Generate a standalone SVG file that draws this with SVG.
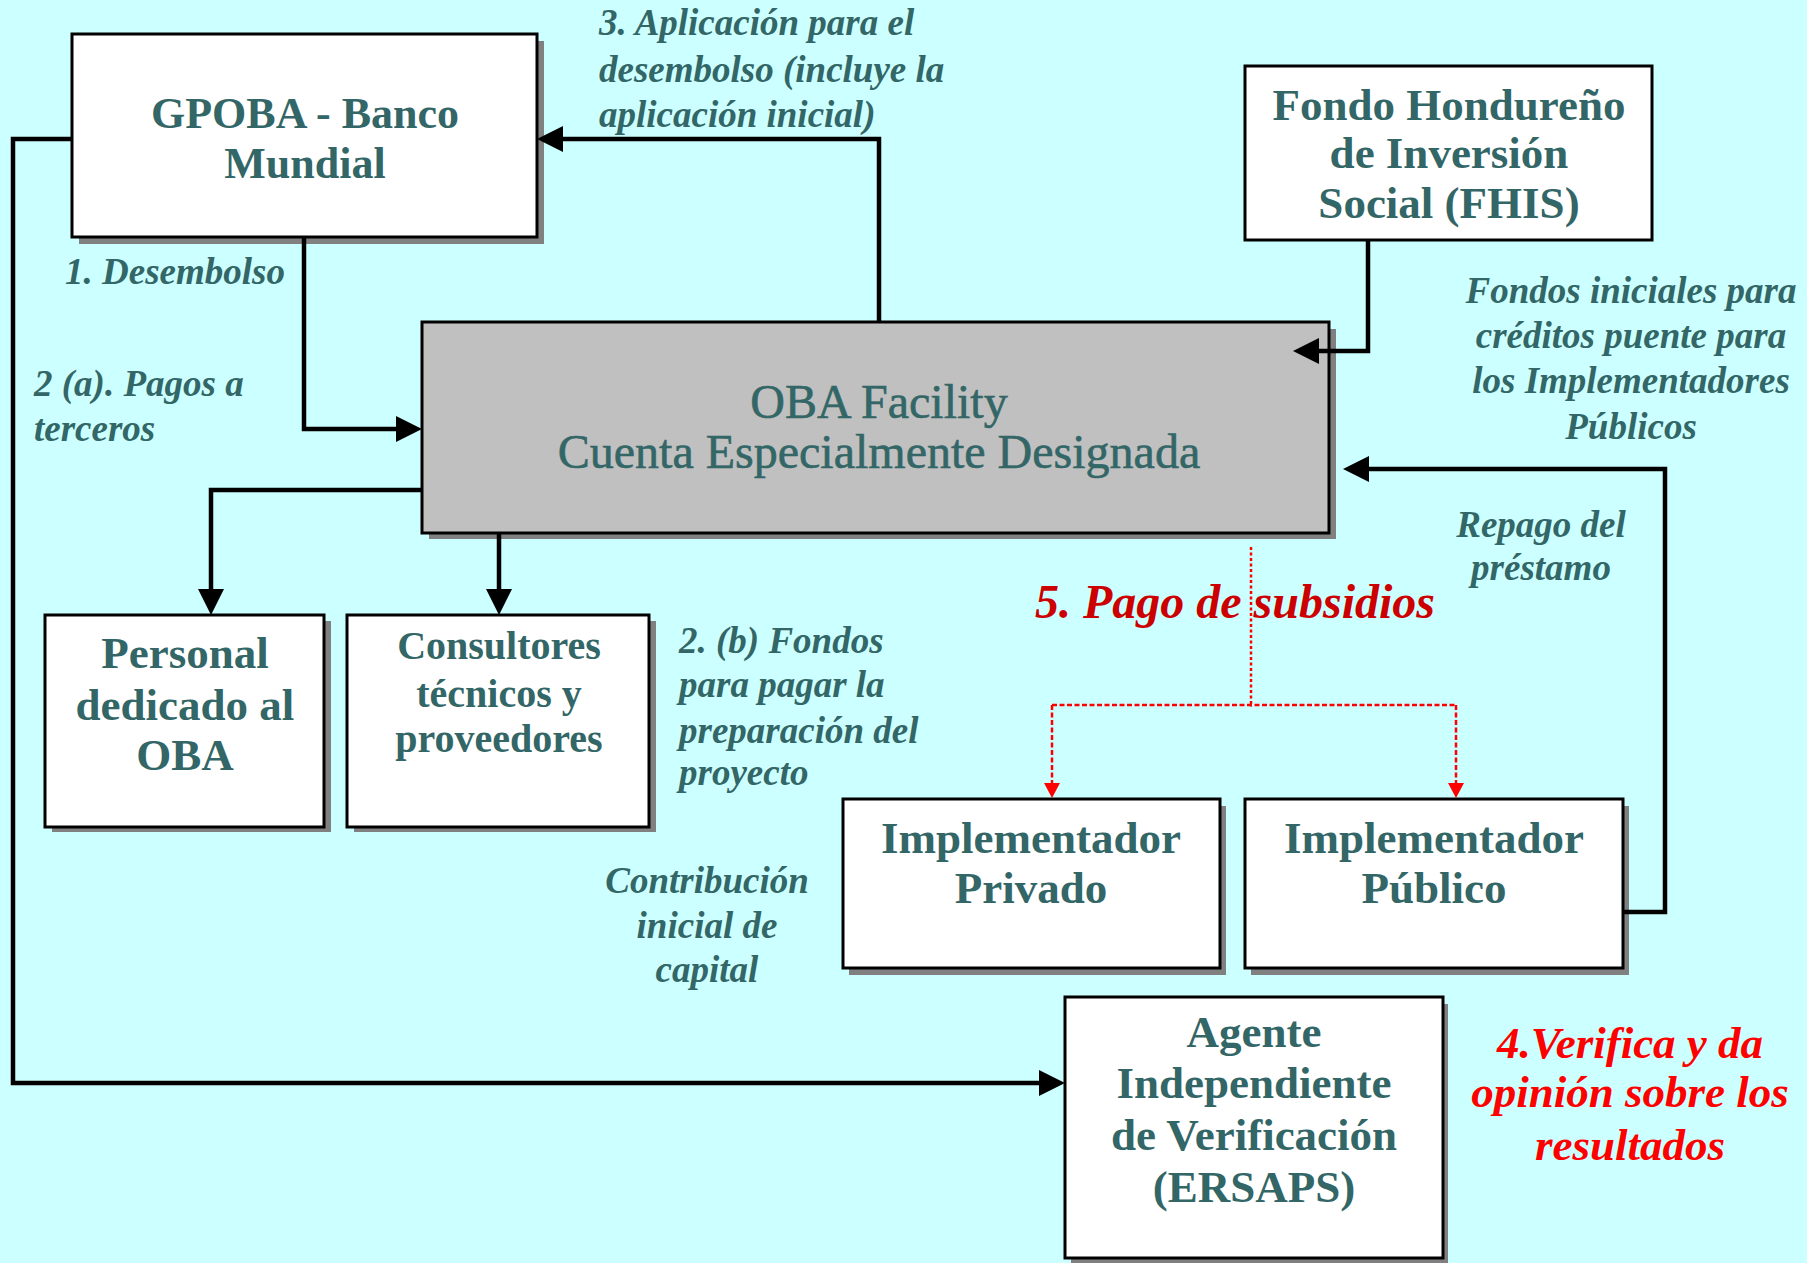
<svg xmlns="http://www.w3.org/2000/svg" width="1807" height="1263" viewBox="0 0 1807 1263">
<defs>
<style>
.bg{fill:#CCFFFF}
.box{fill:#FFFFFF;stroke:#000000;stroke-width:3}
.oba{fill:#C0C0C0;stroke:#000000;stroke-width:3}
.shadow{fill:#808080}
.nt{font-family:"Liberation Serif","Times New Roman",serif;font-weight:bold;fill:#336666;text-anchor:middle}
.ot{font-family:"Liberation Serif","Times New Roman",serif;font-weight:normal;fill:#336666;text-anchor:middle;font-size:48px;stroke:#336666;stroke-width:0.6}
.lb{font-family:"Liberation Serif","Times New Roman",serif;font-weight:bold;font-style:italic;fill:#336666;font-size:37px}
.red{font-family:"Liberation Serif","Times New Roman",serif;font-weight:bold;font-style:italic;font-size:45px}
.sub{font-size:48px;fill:#CC0000}
.conn{fill:none;stroke:#000000;stroke-width:4.5;marker-end:url(#ah)}
.dot{fill:none;stroke:#FF0000;stroke-width:2.5}
</style>
<marker id="ah" markerUnits="userSpaceOnUse" markerWidth="26" markerHeight="26" viewBox="0 0 26 26" refX="6" refY="13" orient="auto">
<path d="M0,0 L26,13 L0,26 Z" fill="#000000"/>
</marker>
<marker id="rh" markerUnits="userSpaceOnUse" markerWidth="16" markerHeight="16" viewBox="0 0 15 16" refX="5" refY="8" orient="auto">
<path d="M0,0 L15,8 L0,16 Z" fill="#FF0000"/>
</marker>
</defs>
<rect class="bg" x="0" y="0" width="1807" height="1263"/>

<g id="gpoba">
<rect class="shadow" x="79" y="41" width="465" height="203"/>
<rect class="box" x="72" y="34" width="465" height="203"/>
<text class="nt" font-size="44" x="305" y="128">GPOBA - Banco</text>
<text class="nt" font-size="44" x="305" y="178">Mundial</text>
</g>

<g id="fhis">
<rect class="box" x="1245" y="66" width="407" height="174"/>
<text class="nt" font-size="45" x="1449" y="120">Fondo Hondureño</text>
<text class="nt" font-size="45" x="1449" y="168">de Inversión</text>
<text class="nt" font-size="45" x="1449" y="218">Social (FHIS)</text>
</g>

<g id="oba">
<rect class="shadow" x="429" y="329" width="907" height="210"/>
<rect class="oba" x="422" y="322" width="907" height="211"/>
<text class="ot" x="879" y="418">OBA Facility</text>
<text class="ot" x="879" y="468">Cuenta Especialmente Designada</text>
</g>

<g id="personal">
<rect class="shadow" x="52" y="621" width="279" height="211"/>
<rect class="box" x="45" y="615" width="279" height="212"/>
<text class="nt" font-size="45" x="185" y="668">Personal</text>
<text class="nt" font-size="45" x="185" y="720">dedicado al</text>
<text class="nt" font-size="45" x="185" y="770">OBA</text>
</g>

<g id="consultores">
<rect class="shadow" x="354" y="621" width="302" height="211"/>
<rect class="box" x="347" y="615" width="302" height="212"/>
<text class="nt" font-size="40" x="499" y="659">Consultores</text>
<text class="nt" font-size="40" x="499" y="707">técnicos y</text>
<text class="nt" font-size="40" x="499" y="752">proveedores</text>
</g>

<g id="privado">
<rect class="shadow" x="849" y="806" width="377" height="169"/>
<rect class="box" x="843" y="799" width="377" height="169"/>
<text class="nt" font-size="45" x="1031" y="853">Implementador</text>
<text class="nt" font-size="45" x="1031" y="903">Privado</text>
</g>

<g id="publico">
<rect class="shadow" x="1251" y="806" width="378" height="169"/>
<rect class="box" x="1245" y="799" width="378" height="169"/>
<text class="nt" font-size="45" x="1434" y="853">Implementador</text>
<text class="nt" font-size="45" x="1434" y="903">Público</text>
</g>

<g id="agente">
<rect class="shadow" x="1071" y="1004" width="377" height="261"/>
<rect class="box" x="1065" y="997" width="378" height="261"/>
<text class="nt" font-size="45" x="1254" y="1047">Agente</text>
<text class="nt" font-size="45" x="1254" y="1098">Independiente</text>
<text class="nt" font-size="45" x="1254" y="1150">de Verificación</text>
<text class="nt" font-size="45" x="1254" y="1202">(ERSAPS)</text>
</g>

<g id="connectors">
<path class="conn" d="M304,237 V429 H402"/>
<path class="conn" d="M72,139 H13 V1083 H1045"/>
<path class="conn" d="M879,322 V139 H557"/>
<path class="conn" d="M1368,240 V351 H1313"/>
<path class="conn" d="M1623,912 H1665 V469 H1363"/>
<path class="conn" d="M422,490 H211 V595"/>
<path class="conn" d="M499,533 V595"/>
<path class="dot" d="M1251,547 V707" stroke-dasharray="3,2.5"/>
<path class="dot" d="M1052,705 H1456" stroke-dasharray="5,2.5"/>
<path class="dot" d="M1052,705 V788" stroke-dasharray="5,2.5" marker-end="url(#rh)"/>
<path class="dot" d="M1456,705 V788" stroke-dasharray="5,2.5" marker-end="url(#rh)"/>
</g>

<g id="labels">
<text class="lb" x="599" y="35">3. Aplicación para el</text>
<text class="lb" x="599" y="82">desembolso (incluye la</text>
<text class="lb" x="599" y="127">aplicación inicial)</text>
<text class="lb" x="65" y="284">1. Desembolso</text>
<text class="lb" x="34" y="396">2 (a). Pagos a</text>
<text class="lb" x="34" y="441">terceros</text>
<text class="lb" text-anchor="middle" x="1631" y="303">Fondos iniciales para</text>
<text class="lb" text-anchor="middle" x="1631" y="348">créditos puente para</text>
<text class="lb" text-anchor="middle" x="1631" y="393">los Implementadores</text>
<text class="lb" text-anchor="middle" x="1631" y="439">Públicos</text>
<text class="lb" text-anchor="middle" x="1541" y="537">Repago del</text>
<text class="lb" text-anchor="middle" x="1541" y="580">préstamo</text>
<text class="lb" x="679" y="653">2. (b) Fondos</text>
<text class="lb" x="679" y="697">para pagar la</text>
<text class="lb" x="679" y="743">preparación del</text>
<text class="lb" x="679" y="785">proyecto</text>
<text class="lb" text-anchor="middle" x="707" y="893">Contribución</text>
<text class="lb" text-anchor="middle" x="707" y="938">inicial de</text>
<text class="lb" text-anchor="middle" x="707" y="982">capital</text>
<text class="red sub" text-anchor="middle" x="1235" y="618">5. Pago de subsidios</text>
<text class="red" fill="#FF0000" text-anchor="middle" x="1630" y="1058">4.Verifica y da</text>
<text class="red" fill="#FF0000" text-anchor="middle" x="1630" y="1107">opinión sobre los</text>
<text class="red" fill="#FF0000" text-anchor="middle" x="1630" y="1160">resultados</text>
</g>
</svg>
